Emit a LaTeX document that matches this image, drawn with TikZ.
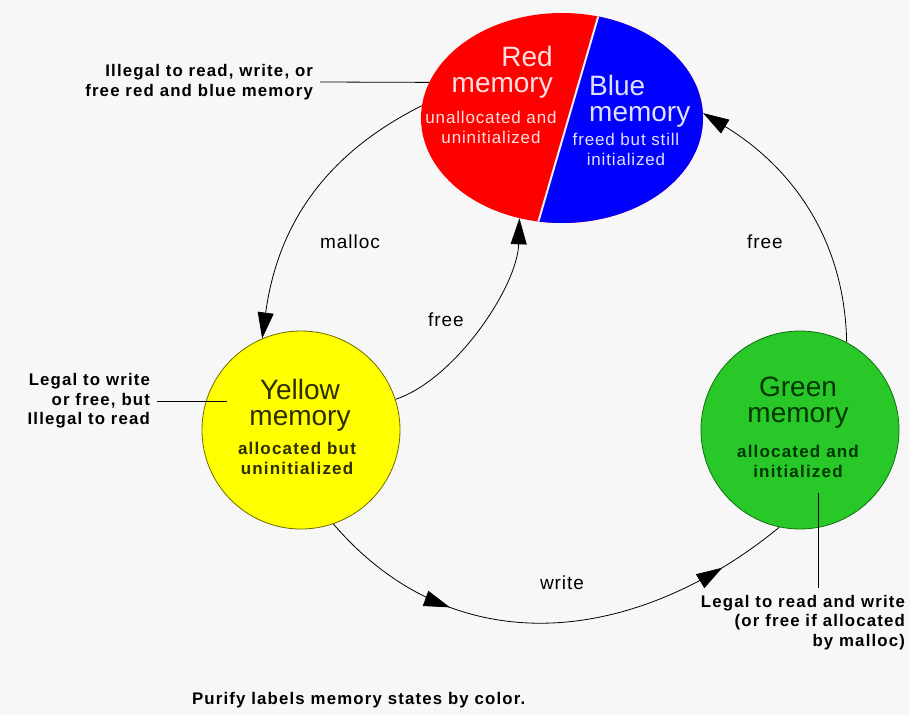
\documentclass[tikz,border=0pt]{standalone}
\usepackage{fontspec}
\setmainfont{Liberation Sans}
\newfontfamily\labelfont[LetterSpace=5]{Liberation Sans}
\newfontfamily\notefont[LetterSpace=7]{Liberation Sans}
\usetikzlibrary{shapes.geometric, arrows.meta, decorations.markings}
\definecolor{bgcol}{RGB}{247,247,247}
\definecolor{redmem}{RGB}{255,0,0}
\definecolor{bluemem}{RGB}{0,0,255}
\definecolor{yellowmem}{RGB}{255,255,0}
\definecolor{greenmem}{RGB}{40,200,40}
\definecolor{yellowtext}{RGB}{45,45,0}
\definecolor{greentext}{RGB}{0,55,0}
\tikzset{
  memcircle/.style={circle, draw, line width=0.8pt, minimum size=198pt, inner sep=0pt}, % yellow and green states
  heading/.style={font=\fontsize{28}{26}\selectfont, inner sep=0pt},
  subhead/.style={font=\labelfont\fontsize{17}{20}\selectfont, align=center, inner sep=0pt},
  subbold/.style={font=\notefont\bfseries\fontsize{17}{20}\selectfont, align=center, inner sep=0pt},
  note/.style={font=\notefont\bfseries\fontsize{16.8}{19.5}\selectfont, align=right, inner sep=0pt, outer sep=7pt},
  trans/.style={font=\labelfont\fontsize{19}{22}\selectfont, inner sep=0pt},
  link/.style={line width=0.8pt},
  flow/.style={line width=0.8pt, -{Triangle[length=26pt,width=16pt]}},
}

\begin{document}
\begin{tikzpicture}[x=1pt, y=-1pt]
    \fill[bgcol] (0,0) rectangle (910,715);
    \useasboundingbox (0,0) rectangle (910,715);

    % red / blue state
    \node[ellipse, fill=redmem, minimum width=282pt, minimum height=210pt, inner sep=0pt] (redblue) at (562,118) {};
    \coordinate (cuttop) at (603,0);
    \coordinate (cutbot) at (533,240);
    \begin{scope}
        \clip (562,118) ellipse [x radius=141, y radius=105];
        \fill[bluemem] (cuttop) -- (720,0) -- (720,240) -- (cutbot) -- cycle;
        \draw[white!85!gray, line width=2pt] (cuttop) -- (cutbot);
    \end{scope}
    \node[heading, align=right, anchor=east, text=white!88!red] (redhead) at (553,72) {Red\\memory};
    \node[subhead, text=white!88!red] (redsub) at (491,127) {unallocated and\\uninitialized};
    \node[heading, align=left, anchor=west, text=white!88!blue] (bluehead) at (589,101) {Blue\\memory};
    \node[subhead, text=white!88!blue] (bluesub) at (626,149) {freed but still\\initialized};

    % yellow and green states
    \node[memcircle, fill=yellowmem, draw=yellowtext!70!yellowmem] (yellow) at (301,430) {};
    \node[heading, align=center, text=yellowtext] (yellowhead) at (300,405) {Yellow\\memory};
    \node[subbold, text=yellowtext] (yellowsub) at (297,458) {allocated but\\uninitialized};

    \node[memcircle, fill=greenmem, draw=greentext!60!greenmem] (green) at (800,430) {};
    \node[heading, align=center, text=greentext] (greenhead) at (798,403) {Green\\memory};
    \node[subbold, text=greentext] (greensub) at (798,461) {allocated and\\initialized};

    % transitions
    \draw[flow] (redblue.175) .. controls +(-100,50) and +(15,-110) .. (yellow.113);
    \draw[flow] (yellow.18) .. controls +(60,-20) and +(-2,68) .. (redblue.247);
    \draw[flow] (green.62) .. controls +(-2,-105) and +(87,53) .. (redblue.2);
    \draw[link, postaction={decorate}, decoration={markings,
        mark=at position 0.29 with {\arrow{Triangle[length=26pt,width=16pt]}},
        mark=at position 0.86 with {\arrow{Triangle[length=26pt,width=16pt]}}}]
        (yellow.289) .. controls +(122,142) and +(-144,118) .. (green.258);

    \node[trans] (malloclabel) at (350,242) {malloc};
    \node[trans] (freelabel) at (446,320) {free};
    \node[trans] (freelabel2) at (765,242) {free};
    \node[trans] (writelabel) at (562,583) {write};

    % notes
    \node[note, anchor=east] (illegalnote) at (320,82) {Illegal to read, write, or\\free red and blue memory};
    \draw[link] (illegalnote.east) -- (redblue.165);

    \node[note, anchor=east] (writenote) at (157,401) {Legal to write\\or free, but\\Illegal to read};
    \coordinate (yellowpin) at (227,401);
    \draw[link] (writenote.east) -- (yellowpin);

    \node[note, anchor=north east] (readnote) at (912,588) {Legal to read and write\\(or free if allocated\\by malloc)};
    \coordinate (greenpin) at (818,493);
    \draw[link] (greenpin) -- (greenpin |- readnote.north);

    \node[note, anchor=west, outer sep=0pt] (caption) at (192,700) {Purify labels memory states by color.};
\end{tikzpicture}
\end{document}
